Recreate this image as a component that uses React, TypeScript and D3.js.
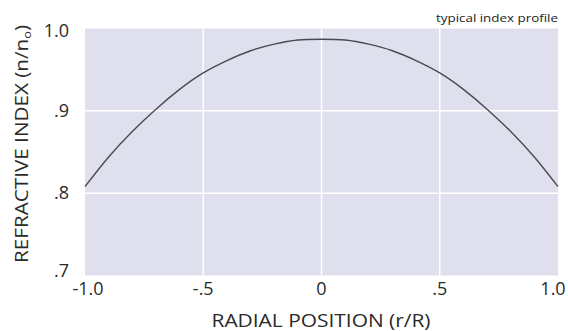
import React, {useRef, useEffect} from 'react';
import * as d3 from 'd3';

// radial position r/R
const radialPos = [-1.0, -0.9, -0.8, -0.7, -0.6, -0.5, -0.4, -0.3, -0.2, -0.1, 0, 0.1, 0.2, 0.3, 0.4, 0.5, 0.6, 0.7, 0.8, 0.9, 1.0];
// refractive index n/n0
const indexValues = [0.808, 0.844, 0.875, 0.902, 0.926, 0.946, 0.961, 0.973, 0.981, 0.986, 0.987, 0.986, 0.981, 0.973, 0.961, 0.946, 0.926, 0.902, 0.875, 0.844, 0.808];

const xTicks = [-1.0, -0.5, 0, 0.5, 1.0];
const xTickLabels = ['-1.0', '-.5', '0', '.5', '1.0'];
const yTicks = [0.7, 0.8, 0.9, 1.0];
const yTickLabels = ['.7', '.8', '.9', '1.0'];

const FONT = '"Open Sans", sans-serif';

export default function App() {
  const ref = useRef<SVGSVGElement>(null);

  useEffect(() => {
    const svg = d3.select(ref.current);
    svg.selectAll('*').remove();

    const left = 85, right = 558, top = 28.5, bottom = 275.5;

    const x = d3.scaleLinear().domain([-1, 1]).range([left, right]);
    const y = d3.scaleLinear().domain([0.7, 1.0]).range([bottom, top]);

    // 背景
    svg.append('rect')
      .attr('x', left)
      .attr('y', top)
      .attr('width', right - left)
      .attr('height', bottom - top)
      .attr('fill', '#dfdfee');

    // 网格线
    svg.selectAll('.vgrid')
      .data(xTicks.slice(1, -1))
      .enter()
      .append('line')
      .attr('x1', d => x(d))
      .attr('x2', d => x(d))
      .attr('y1', top)
      .attr('y2', bottom)
      .attr('stroke', '#fff')
      .attr('stroke-width', 1.5);

    svg.selectAll('.hgrid')
      .data(yTicks.slice(1, -1))
      .enter()
      .append('line')
      .attr('x1', left)
      .attr('x2', right)
      .attr('y1', d => y(d))
      .attr('y2', d => y(d))
      .attr('stroke', '#fff')
      .attr('stroke-width', 1.5);

    // 曲线
    const line = d3.line<number>()
      .x((d, i) => x(radialPos[i]))
      .y(d => y(d))
      .curve(d3.curveNatural);

    svg.append('path')
      .attr('d', line(indexValues))
      .attr('fill', 'none')
      .attr('stroke', '#4a4a55')
      .attr('stroke-width', 1.4);

    // x 刻度值，两端的标签往里收一点
    const n = xTicks.length;
    svg.selectAll('.xlab')
      .data(xTicks)
      .enter()
      .append('text')
      .attr('x', (d, i) => x(d) + (i === 0 ? 3 : i === n - 1 ? -5 : 0))
      .attr('y', 295)
      .attr('text-anchor', 'middle')
      .attr('font-family', FONT)
      .attr('font-size', 18)
      .attr('fill', '#2a2a2a')
      .text((d, i) => xTickLabels[i]);

    // y 刻度值（.7 和 1.0 的位置稍作偏移）
    const yOff = [1, 5.5, 6, 8];
    svg.selectAll('.ylab')
      .data(yTicks)
      .enter()
      .append('text')
      .attr('x', 69)
      .attr('y', (d, i) => y(d) + yOff[i])
      .attr('text-anchor', 'end')
      .attr('font-family', FONT)
      .attr('font-size', 18)
      .attr('fill', '#2a2a2a')
      .text((d, i) => yTickLabels[i]);

    // 轴标题
    svg.append('text')
      .attr('x', 321)
      .attr('y', 327)
      .attr('text-anchor', 'middle')
      .attr('font-family', FONT)
      .attr('font-size', 18)
      .attr('textLength', 219)
      .attr('lengthAdjust', 'spacingAndGlyphs')
      .attr('fill', '#2a2a2a')
      .text('RADIAL POSITION (r/R)');

    const yTitle = svg.append('text')
      .attr('transform', 'translate(28,144) rotate(-90)')
      .attr('text-anchor', 'middle')
      .attr('font-family', FONT)
      .attr('font-size', 18)
      .attr('textLength', 238)
      .attr('lengthAdjust', 'spacingAndGlyphs')
      .attr('fill', '#2a2a2a');
    yTitle.append('tspan').text('REFRACTIVE INDEX (n/n');
    yTitle.append('tspan')
      .attr('font-size', 11)
      .attr('dy', 3)
      .text('o');
    yTitle.append('tspan')
      .attr('dy', -3)
      .text(')');

    svg.append('text')
      .attr('x', 558)
      .attr('y', 22)
      .attr('text-anchor', 'end')
      .attr('font-family', FONT)
      .attr('font-size', 11)
      .attr('textLength', 122)
      .attr('lengthAdjust', 'spacingAndGlyphs')
      .attr('fill', '#222')
      .text('typical index profile');
  }, []);

  return (
    <svg ref={ref} width={568} height={331}
      style={{position: 'absolute', top: 0, left: 0, background: '#fff'}} />
  );
}
